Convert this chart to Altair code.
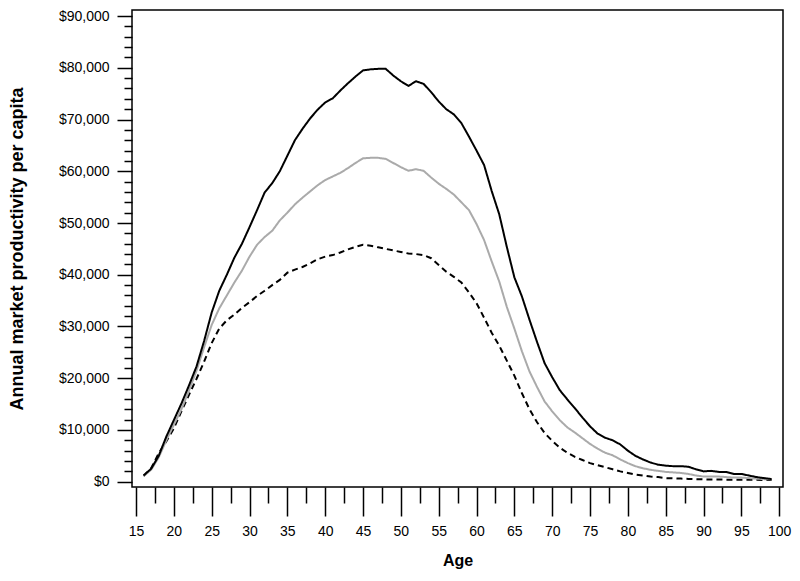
import altair as alt
import pandas as pd

ages = list(range(16, 100))

upper = [1200, 2500, 5000, 8700, 11900, 15100, 18600, 22300, 27200, 32700,
         36900, 40000, 43300, 46000, 49200, 52500, 55900, 57700, 60000, 63000,
         66000, 68200, 70200, 71900, 73300, 74100, 75600, 77000, 78300, 79500,
         79700, 79800, 79800, 78500, 77400, 76500, 77400, 76900, 75300, 73500,
         72000, 71000, 69300, 66700, 64000, 61200, 56200, 51700, 45400, 39500,
         35800, 31300, 27000, 22900, 20200, 17700, 15900, 14200, 12400, 10700,
         9300, 8500, 8000, 7200, 6000, 5000, 4300, 3700, 3300, 3100,
         3000, 3000, 2900, 2400, 2000, 2100, 1900, 1900, 1500, 1500,
         1200, 900, 700, 500]

middle = [1100, 2300, 4700, 8000, 11000, 14000, 17600, 21500, 26000, 30300,
          33500, 36000, 38500, 40800, 43500, 45800, 47300, 48500, 50500, 52000,
          53600, 54900, 56100, 57300, 58300, 59000, 59700, 60600, 61600, 62500,
          62600, 62600, 62400, 61600, 60800, 60100, 60400, 60100, 58800, 57600,
          56600, 55500, 54000, 52500, 49800, 46700, 42600, 38700, 33800, 29600,
          25200, 21300, 18300, 15500, 13600, 11900, 10500, 9500, 8400, 7300,
          6400, 5600, 5100, 4300, 3600, 3000, 2600, 2300, 2100, 1900,
          1800, 1700, 1500, 1200, 1000, 1000, 1000, 900, 800, 800,
          700, 600, 500, 450]

lower = [1100, 2600, 5500, 7800, 10300, 13600, 16800, 19900, 23200, 26800,
         29600, 31200, 32300, 33600, 34700, 35900, 36900, 38000, 39000, 40400,
         41000, 41500, 42200, 43000, 43500, 43800, 44300, 44900, 45400, 45800,
         45600, 45300, 45000, 44700, 44400, 44100, 44000, 43800, 43200, 41900,
         40600, 39600, 38500, 36600, 34500, 31700, 28800, 26300, 23400, 20500,
         17100, 14000, 11500, 9400, 7900, 6600, 5600, 4800, 4200, 3600,
         3200, 2800, 2400, 2000, 1700, 1400, 1200, 1000, 900, 700,
         650, 600, 550, 500, 460, 440, 420, 400, 390, 380,
         370, 360, 350, 350]

series_names = ["lower", "middle", "upper"]
series_colors = ["#000000", "#aaaaaa", "#000000"]
series_dashes = [[6, 4], [1, 0], [1, 0]]

x_major = [15, 20, 25, 30, 35, 40, 45, 50, 55, 60, 65, 70, 75, 80, 85, 90, 95, 100]
x_minor = [v + 2.5 for v in x_major[:-1]]
y_major = [0, 10000, 20000, 30000, 40000, 50000, 60000, 70000, 80000, 90000]
y_minor = [v for v in range(0, 90001, 2000) if v % 10000 != 0]

rows = []
for name, vals in zip(series_names, [lower, middle, upper]):
    for a, v in zip(ages, vals):
        rows.append({"age": a, "value": v, "series": name})
df = pd.DataFrame(rows)

FONT = "Liberation Sans"
x_scale = alt.Scale(domain=[14.47, 100.5], nice=False, zero=False)
y_scale = alt.Scale(domain=[-1020, 91170], nice=False, zero=False)

lines = alt.Chart(df).mark_line(strokeWidth=2).encode(
    x=alt.X("age:Q", scale=x_scale, axis=alt.Axis(
        values=x_major, tickSize=29, tickWidth=1.5, tickColor="black",
        labelFontSize=14, labelPadding=8, labelColor="black", labelFont=FONT,
        labelFlush=False, labelOverlap=False, domain=False, grid=False,
        orient="bottom", title="Age", titleFont=FONT, titleFontSize=16,
        titleFontWeight="bold", titleColor="black", titleY=78,
        titleBaseline="alphabetic")),
    y=alt.Y("value:Q", scale=y_scale, axis=alt.Axis(
        values=y_major, format="$,.0f", tickSize=15, tickWidth=1.5,
        tickColor="black", labelFontSize=14, labelPadding=8, labelColor="black",
        labelFont=FONT, labelFlush=False, labelOverlap=False, domain=False,
        grid=False, orient="left", title="Annual market productivity per capita",
        titleFont=FONT, titleFontSize=18, titleFontWeight="bold",
        titleColor="black", titleX=-110, titleBaseline="alphabetic")),
    color=alt.Color("series:N", scale=alt.Scale(domain=series_names, range=series_colors), legend=None),
    strokeDash=alt.StrokeDash("series:N", scale=alt.Scale(domain=series_names, range=series_dashes), legend=None),
    order=alt.Order("age:Q"),
)

minor = alt.Chart(df).mark_line(strokeOpacity=0).encode(
    x=alt.X("age:Q", scale=x_scale, title="", axis=alt.Axis(
        values=x_minor, tickSize=16, tickWidth=1.5, tickColor="black",
        labels=False, domain=False, grid=False, orient="bottom")),
    y=alt.Y("value:Q", scale=y_scale, title="", axis=alt.Axis(
        values=y_minor, tickSize=8, tickWidth=1.5, tickColor="black",
        labels=False, domain=False, grid=False, orient="left")),
    detail="series:N",
)

chart = alt.layer(minor, lines).resolve_axis(
    x="independent", y="independent"
).properties(
    width=651, height=477,
    autosize=alt.AutoSizeParams(type="none"),
    padding={"left": 124, "top": 2, "right": 9, "bottom": 84},
).configure_view(stroke="black", strokeWidth=1.5)

chart.save("out.html", embed_options={"renderer": "svg", "actions": False})
